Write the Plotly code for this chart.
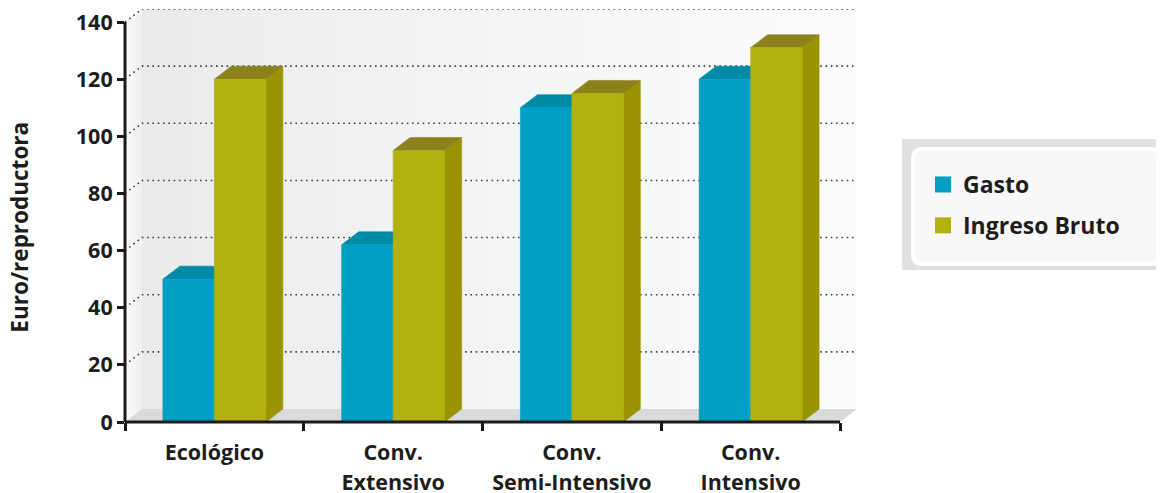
import plotly.graph_objects as go

# ---------------- data ----------------
categories = ["Ecológico", "Conv. Extensivo", "Conv. Semi-Intensivo", "Conv. Intensivo"]
label_line1 = ["Ecológico", "Conv.", "Conv.", "Conv."]
label_line2 = ["", "Extensivo", "Semi-Intensivo", "Intensivo"]
gasto = [50, 62, 110, 120]
ingreso_bruto = [120, 95, 115, 131]
series_names = ["Gasto", "Ingreso Bruto"]
y_tick_values = [0, 20, 40, 60, 80, 100, 120, 140]
y_title = "Euro/reproductora"

# ---------------- style ----------------
FONT = "Open Sans"
TXT = "#1d1d1b"
BAR_W = 0.288      # bar width in category units
DX = 0.095         # 3D depth, x (category units)
DY = 4.55          # 3D depth, y (value units)
YMAX = 140
colors = {
    "Gasto": {"front": "#00a0c6", "top": "#008aa6", "side": "#007c96"},
    "Ingreso Bruto": {"front": "#b2b111", "top": "#8c821d", "side": "#999400"},
}

# page body has an 8px default margin: lay the figure out relative to that
OFF = 8
W, H = 1164 - OFF, 493 - OFF
L, R, T, B = 125 - OFF, 307, 9 - OFF, 71
PW, PH = W - L - R, H - T - B


def px_x(p):  # window pixel -> paper x
    return (p - OFF - L) / PW


def px_y(p):  # window pixel -> paper y
    return (H - B - (p - OFF)) / PH


n = len(categories)
x_lo, x_hi = -0.5, n - 0.5

fig = go.Figure()

# left wall
fig.add_trace(go.Scatter(
    x=[x_lo, x_lo + DX, x_lo + DX, x_lo, x_lo],
    y=[0, DY, YMAX + DY, YMAX, 0],
    fill="toself", mode="lines", line=dict(width=0),
    fillgradient=dict(type="horizontal", colorscale=[[0, "#fafafa"], [1, "#eeeff0"]]),
    hoverinfo="skip", showlegend=False))

# back wall with gradient
fig.add_trace(go.Scatter(
    x=[x_lo + DX, x_hi + DX, x_hi + DX, x_lo + DX, x_lo + DX],
    y=[DY, DY, YMAX + DY, YMAX + DY, DY],
    fill="toself", mode="lines", line=dict(width=0),
    fillgradient=dict(type="horizontal",
                      colorscale=[[0, "#e9eaeb"], [0.5, "#f3f4f4"], [1, "#fcfcfc"]]),
    hoverinfo="skip", showlegend=False))

# floor
fig.add_trace(go.Scatter(
    x=[x_lo, x_hi, x_hi + DX, x_lo + DX, x_lo],
    y=[0, 0, DY, DY, 0],
    fill="toself", mode="lines", line=dict(width=0),
    fillcolor="#d9dada", hoverinfo="skip", showlegend=False))

# dotted gridlines on back wall (with short diagonal on left wall)
gx, gy = [], []
for v in y_tick_values[1:]:
    gx += [x_lo, x_lo + DX, x_hi + DX, None]
    gy += [v, v + DY, v + DY, None]
fig.add_trace(go.Scatter(
    x=gx, y=gy, mode="lines",
    line=dict(color="#404040", width=1.6, dash="1.6px,3.7px"),
    hoverinfo="skip", showlegend=False))


def faces(vals, offset):
    fr_x, fr_y, tp_x, tp_y, sd_x, sd_y = [], [], [], [], [], []
    for i, v in enumerate(vals):
        x0 = i + offset
        x1 = x0 + BAR_W
        fr_x += [x0, x1, x1, x0, x0, None]
        fr_y += [0, 0, v, v, 0, None]
        tp_x += [x0, x1, x1 + DX, x0 + DX, x0, None]
        tp_y += [v, v, v + DY, v + DY, v, None]
        sd_x += [x1, x1 + DX, x1 + DX, x1, x1, None]
        sd_y += [0, DY, v + DY, v, 0, None]
    return (fr_x, fr_y), (tp_x, tp_y), (sd_x, sd_y)


for name, vals, off in [(series_names[0], gasto, -BAR_W),
                        (series_names[1], ingreso_bruto, 0.0)]:
    fr, tp, sd = faces(vals, off)
    c = colors[name]
    for (xs, ys), col in [(sd, c["side"]), (tp, c["top"]), (fr, c["front"])]:
        fig.add_trace(go.Scatter(
            x=xs, y=ys, fill="toself", mode="lines",
            line=dict(width=0.6, color=col), fillcolor=col,
            name=name, hoverinfo="skip", showlegend=False))

# legend entries
for i, name in enumerate(series_names):
    fig.add_trace(go.Scatter(
        x=[None], y=[None], mode="markers", name=name,
        legendgroup=name,
        marker=dict(symbol="square", size=16, color=colors[name]["front"])))

# helper trace for second-line axis
fig.add_trace(go.Scatter(x=[x_lo, x_hi + DX], y=[None, None], xaxis="x2",
                         mode="markers", showlegend=False, hoverinfo="skip"))

tickfont = dict(family=FONT, size=21.5, color=TXT, weight="bold")

fig.update_layout(
    width=W, height=H,
    margin=dict(l=L, r=R, t=T, b=B, autoexpand=False),
    paper_bgcolor="white", plot_bgcolor="white",
    font=dict(family=FONT, color=TXT),
    xaxis=dict(range=[x_lo, x_hi + DX], tickvals=list(range(n)), ticktext=label_line1,
               ticks="", showgrid=False, zeroline=False, showline=False,
               tickfont=tickfont, ticklabelstandoff=15, automargin=False,
               ticklabeloverflow="allow",
               minor=dict(tickvals=[k - 0.5 for k in range(n + 1)], ticks="outside",
                          ticklen=8, tickwidth=3, tickcolor="#1a1a1a", showgrid=False)),
    xaxis2=dict(overlaying="x", anchor="y", side="bottom", matches="x",
                range=[x_lo, x_hi + DX], tickvals=list(range(n)), ticktext=label_line2,
                ticks="", showgrid=False, zeroline=False, showline=False,
                tickfont=tickfont, ticklabelstandoff=45, automargin=False,
                ticklabeloverflow="allow"),
    yaxis=dict(range=[0, YMAX + DY], tickvals=y_tick_values, ticks="outside",
               ticklen=7, tickwidth=3, tickcolor="#1a1a1a", automargin=False,
               ticklabeloverflow="allow",
               showgrid=False, zeroline=False, showline=False, tickfont=tickfont),
    legend=dict(x=px_x(923), xanchor="left", y=px_y(163), yanchor="top",
                bgcolor="rgba(0,0,0,0)",
                font=dict(family=FONT, size=23, color=TXT, weight="bold"),
                tracegroupgap=8, itemclick=False, itemdoubleclick=False),
    annotations=[dict(text=y_title, textangle=-90, xref="paper", x=0, xshift=-(125 - 20),
                      yref="y", y=68, showarrow=False, xanchor="center", yanchor="middle",
                      font=dict(family=FONT, size=22.5, color=TXT, weight="bold"))],
)

# axis lines
fig.add_shape(type="line", xref="paper", x0=0, x1=0, yref="y", y0=0, y1=YMAX,
              line=dict(color="#1a1a1a", width=3), layer="above")
fig.add_shape(type="line", xref="x", x0=x_lo, x1=x_hi, yref="paper", y0=0, y1=0,
              line=dict(color="#1a1a1a", width=3), layer="above")

# legend box decoration
fig.add_shape(type="rect", xref="paper", yref="paper",
              x0=px_x(902), x1=px_x(1164), y0=px_y(270), y1=px_y(139),
              fillcolor="#e0e0e0", line=dict(width=0), layer="below")


def rounded(x0p, y0p, x1p, y1p, r):
    a, b, c, d = px_x(x0p), px_x(x1p), px_y(y0p), px_y(y1p)
    rx, ry = r / PW, r / PH
    return (f"M {a+rx},{c} L {b-rx},{c} Q {b},{c} {b},{c-ry} L {b},{d+ry} "
            f"Q {b},{d} {b-rx},{d} L {a+rx},{d} Q {a},{d} {a},{d+ry} "
            f"L {a},{c-ry} Q {a},{c} {a+rx},{c} Z")


fig.add_shape(type="path", xref="paper", yref="paper",
              path=rounded(913, 149, 1160, 264, 10),
              fillcolor="#f8f8f8", line=dict(color="white", width=4), layer="below")

fig.write_html("out.html")
